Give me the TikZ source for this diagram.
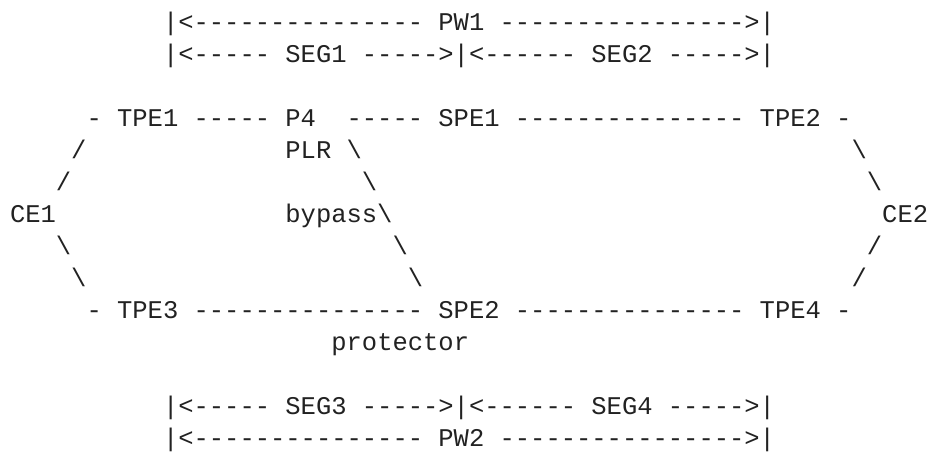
\documentclass[tikz,border=0pt]{standalone}
\usepackage{fontspec}
\setmonofont{Liberation Mono}
\definecolor{ink}{HTML}{222222}
\newcommand\spc[1]{\hspace*{#1\fontcharwd\font`\x}}
\newcommand\bsl{\textbackslash}
\begin{document}
\begin{tikzpicture}[x=1pt,y=1pt,
  ln/.style={anchor=base west, inner sep=0pt, outer sep=0pt, text=ink,
    font=\ttfamily\fontsize{25.5}{32}\selectfont}]
\useasboundingbox (0,0) rectangle (929,454);
\fill[white] (0,0) rectangle (929,454);
\node[ln] (l0)  at (10,423.5) {\spc{10}|<---------------\spc{1}PW1\spc{1}---------------->|};
\node[ln] (l1)  at (10,391.5) {\spc{10}|<-----\spc{1}SEG1\spc{1}----->|<------\spc{1}SEG2\spc{1}----->|};
\node[ln] (l3)  at (10,327.5) {\spc{5}-\spc{1}TPE1\spc{1}-----\spc{1}P4\spc{2}-----\spc{1}SPE1\spc{1}---------------\spc{1}TPE2\spc{1}-};
\node[ln] (l4)  at (10,295.5) {\spc{4}/\spc{13}PLR\spc{1}\bsl\spc{32}\bsl};
\node[ln] (l5)  at (10,263.5) {\spc{3}/\spc{19}\bsl\spc{32}\bsl};
\node[ln] (l6)  at (10,231.5) {CE1\spc{15}bypass\bsl\spc{32}CE2};
\node[ln] (l7)  at (10,199.5) {\spc{3}\bsl\spc{21}\bsl\spc{30}/};
\node[ln] (l8)  at (10,167.5) {\spc{4}\bsl\spc{21}\bsl\spc{28}/};
\node[ln] (l9)  at (10,135.5) {\spc{5}-\spc{1}TPE3\spc{1}---------------\spc{1}SPE2\spc{1}---------------\spc{1}TPE4\spc{1}-};
\node[ln] (l10) at (10,103.5) {\spc{21}protector};
\node[ln] (l12) at (10,39.5)  {\spc{10}|<-----\spc{1}SEG3\spc{1}----->|<------\spc{1}SEG4\spc{1}----->|};
\node[ln] (l13) at (10,7.5)   {\spc{10}|<---------------\spc{1}PW2\spc{1}---------------->|};
\end{tikzpicture}
\end{document}
